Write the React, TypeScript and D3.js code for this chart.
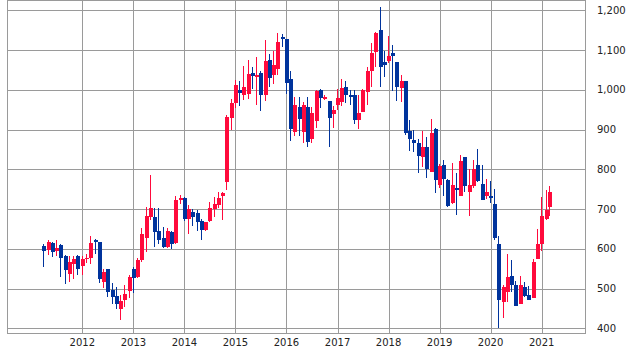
import React, { useRef, useEffect } from "react";
import * as d3 from "d3";

// monthly candles, Apr 2011 - Mar 2021
const months = [
  "2011-04", "2011-05", "2011-06", "2011-07", "2011-08", "2011-09", "2011-10", "2011-11", "2011-12",
  "2012-01", "2012-02", "2012-03", "2012-04", "2012-05", "2012-06", "2012-07", "2012-08", "2012-09", "2012-10", "2012-11", "2012-12",
  "2013-01", "2013-02", "2013-03", "2013-04", "2013-05", "2013-06", "2013-07", "2013-08", "2013-09", "2013-10", "2013-11", "2013-12",
  "2014-01", "2014-02", "2014-03", "2014-04", "2014-05", "2014-06", "2014-07", "2014-08", "2014-09", "2014-10", "2014-11", "2014-12",
  "2015-01", "2015-02", "2015-03", "2015-04", "2015-05", "2015-06", "2015-07", "2015-08", "2015-09", "2015-10", "2015-11", "2015-12",
  "2016-01", "2016-02", "2016-03", "2016-04", "2016-05", "2016-06", "2016-07", "2016-08", "2016-09", "2016-10", "2016-11", "2016-12",
  "2017-01", "2017-02", "2017-03", "2017-04", "2017-05", "2017-06", "2017-07", "2017-08", "2017-09", "2017-10", "2017-11", "2017-12",
  "2018-01", "2018-02", "2018-03", "2018-04", "2018-05", "2018-06", "2018-07", "2018-08", "2018-09", "2018-10", "2018-11", "2018-12",
  "2019-01", "2019-02", "2019-03", "2019-04", "2019-05", "2019-06", "2019-07", "2019-08", "2019-09", "2019-10", "2019-11", "2019-12",
  "2020-01", "2020-02", "2020-03", "2020-04", "2020-05", "2020-06", "2020-07", "2020-08", "2020-09", "2020-10", "2020-11", "2020-12",
  "2021-01", "2021-02", "2021-03",
];

const open = [
  607, 598, 614, 594, 610, 582, 537, 561, 581,
  557, 574, 578, 621, 617, 517, 548, 496, 482, 449, 471, 494,
  550, 529, 571, 627, 679, 681, 646, 627, 604, 642, 614, 723,
  729, 675, 692, 689, 669, 648, 671, 699, 711, 732, 767, 929,
  967, 1000, 986, 990, 1042, 1032, 1042, 986, 1075, 1037, 1052, 1132,
  1127, 1026, 894, 957, 894, 957, 877, 922, 1000, 976, 971, 938,
  961, 969, 1008, 987, 986, 923, 944, 994, 1047, 1094, 1150, 1069,
  1073, 1092, 1071, 1004, 1021, 896, 873, 865, 830, 857, 794, 902,
  761, 811, 773, 715, 752, 734, 832, 744, 757, 811, 762, 732,
  733, 713, 611, 465, 492, 532, 509, 461, 504, 483, 476, 575,
  613, 676, 704,
];

const high = [
  611, 623, 616, 621, 612, 585, 581, 582, 585,
  582, 587, 631, 625, 618, 550, 550, 513, 504, 483, 508, 533,
  554, 577, 652, 706, 786, 702, 702, 654, 652, 646, 733, 735,
  731, 710, 700, 698, 675, 668, 717, 730, 742, 744, 936, 977,
  1025, 1023, 1059, 1076, 1057, 1083, 1048, 1126, 1090, 1098, 1144, 1140,
  1128, 1048, 983, 982, 969, 982, 957, 1000, 1002, 986, 971, 958,
  1002, 1027, 1021, 1000, 1000, 987, 1001, 1057, 1117, 1146, 1208, 1098,
  1136, 1113, 1071, 1036, 1022, 923, 900, 877, 896, 882, 926, 904,
  813, 823, 775, 815, 790, 836, 832, 800, 823, 851, 811, 775,
  771, 751, 633, 509, 588, 571, 519, 532, 517, 507, 575, 650,
  730, 747, 758,
];

const low = [
  554, 585, 579, 583, 528, 512, 517, 523, 535,
  533, 565, 561, 588, 515, 502, 478, 462, 449, 421, 454, 475,
  489, 527, 568, 592, 672, 604, 612, 602, 602, 600, 612, 712,
  671, 637, 658, 646, 622, 646, 667, 680, 702, 672, 747, 900,
  955, 958, 975, 977, 1002, 963, 947, 973, 1007, 1015, 1036, 1107,
  990, 872, 883, 883, 865, 855, 865, 905, 955, 975, 855, 905,
  950, 958, 967, 961, 913, 902, 943, 961, 1008, 1057, 1008, 1032,
  1067, 998, 973, 969, 887, 847, 844, 790, 807, 778, 794, 740,
  753, 732, 705, 713, 686, 734, 744, 682, 754, 769, 722, 726,
  715, 622, 400, 426, 467, 492, 455, 461, 480, 472, 476, 575,
  594, 673, 682,
];

const close = [
  594, 617, 592, 601, 578, 546, 567, 575, 550,
  575, 578, 614, 616, 523, 542, 492, 479, 461, 468, 487, 529,
  527, 571, 636, 683, 702, 642, 623, 604, 646, 611, 722, 727,
  675, 700, 681, 667, 647, 667, 702, 712, 727, 740, 932, 967,
  1011, 992, 1008, 1040, 1035, 1036, 986, 1073, 1030, 1062, 1119, 1129,
  1017, 901, 961, 926, 961, 869, 942, 996, 980, 981, 930, 948,
  979, 1005, 986, 983, 923, 942, 1000, 1048, 1092, 1144, 1057, 1062,
  1086, 1084, 1007, 1023, 892, 875, 867, 833, 857, 801, 892, 772,
  809, 776, 707, 761, 747, 821, 757, 761, 802, 771, 723, 744,
  727, 627, 472, 505, 528, 509, 457, 509, 482, 472, 567, 613,
  682, 698, 744,
];

const yTicks = [400, 500, 600, 700, 800, 900, 1000, 1100, 1200];
const yearTicks = ["2012", "2013", "2014", "2015", "2016", "2017", "2018", "2019", "2020", "2021"];

const UP = "#ff0a3c";
const DOWN = "#00339c";
const GRID = "#9a9a9a";

const CandleChart = () => {
  const svgRef = useRef<SVGSVGElement>(null);
  const width = 628;
  const height = 352;
  const left = 7.5;
  const right = 585.5;
  const top = 0.5;
  const bottom = 333.5;

  useEffect(() => {
    const parseMonth = d3.timeParse("%Y-%m");
    const parseYear = d3.timeParse("%Y");
    const data = months.map((m, i) => ({
      date: parseMonth(m) as Date,
      o: open[i],
      h: high[i],
      l: low[i],
      c: close[i],
    }));

    const xScale = d3
      .scaleTime()
      .domain([parseYear("2012") as Date, parseYear("2021") as Date])
      .range([82.3, 541.7]);
    const yScale = d3.scaleLinear().domain([400, 1200]).range([328.3, 10.3]);

    const svg = d3.select(svgRef.current);
    svg.selectAll("*").remove();

    const grid = svg.append("g").attr("shape-rendering", "crispEdges");

    grid
      .selectAll(".hgrid")
      .data(yTicks)
      .enter()
      .append("line")
      .attr("x1", left)
      .attr("x2", right)
      .attr("y1", (d) => Math.round(yScale(d)) + 0.5)
      .attr("y2", (d) => Math.round(yScale(d)) + 0.5)
      .attr("stroke", GRID);

    grid
      .selectAll(".vgrid")
      .data(yearTicks)
      .enter()
      .append("line")
      .attr("x1", (d) => Math.round(xScale(parseYear(d) as Date)) + 0.5)
      .attr("x2", (d) => Math.round(xScale(parseYear(d) as Date)) + 0.5)
      .attr("y1", top)
      .attr("y2", bottom)
      .attr("stroke", GRID);

    grid
      .append("rect")
      .attr("x", left)
      .attr("y", top)
      .attr("width", right - left)
      .attr("height", bottom - top)
      .attr("fill", "none")
      .attr("stroke", GRID);

    const candles = svg
      .append("g")
      .attr("shape-rendering", "crispEdges")
      .selectAll("g")
      .data(data)
      .enter()
      .append("g")
      .attr("fill", (d) => (d.c >= d.o ? UP : DOWN))
      .attr("stroke", (d) => (d.c >= d.o ? UP : DOWN));

    candles
      .append("line")
      .attr("x1", (d) => Math.floor(xScale(d.date)) + 0.5)
      .attr("x2", (d) => Math.floor(xScale(d.date)) + 0.5)
      .attr("y1", (d) => yScale(d.h))
      .attr("y2", (d) => yScale(d.l))
      .attr("stroke-width", 1);

    candles
      .append("rect")
      .attr("x", (d) => Math.floor(xScale(d.date)) - 1.5)
      .attr("y", (d) => yScale(Math.max(d.o, d.c)))
      .attr("width", 4)
      .attr("height", (d) => Math.max(1.5, Math.abs(yScale(d.o) - yScale(d.c))))
      .attr("stroke", "none");

    const fmt = d3.format(",");
    svg
      .append("g")
      .selectAll("text")
      .data(yTicks)
      .enter()
      .append("text")
      .attr("x", 597)
      .attr("y", (d) => yScale(d))
      .attr("dy", "0.36em")
      .attr("font-family", "DejaVu Sans, sans-serif")
      .attr("font-size", 10)
      .attr("fill", "#222")
      .text((d) => fmt(d));

    svg
      .append("g")
      .selectAll("text")
      .data(yearTicks)
      .enter()
      .append("text")
      .attr("x", (d) => xScale(parseYear(d) as Date))
      .attr("y", 345.5)
      .attr("text-anchor", "middle")
      .attr("font-family", "DejaVu Sans, sans-serif")
      .attr("font-size", 10)
      .attr("fill", "#222")
      .text((d) => d);
  }, []);

  return (
    <svg
      ref={svgRef}
      width={width}
      height={height}
      style={{ position: "absolute", left: 0, top: 0, background: "#fff" }}
    />
  );
};

export default function App() {
  return <CandleChart />;
}
